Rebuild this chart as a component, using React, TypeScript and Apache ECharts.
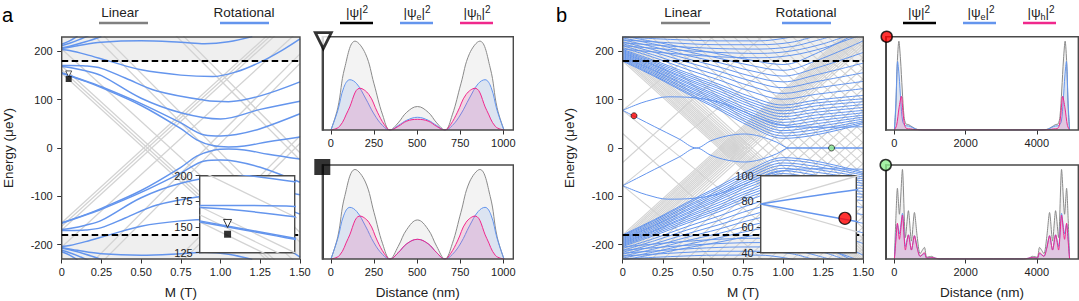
import React, { useEffect, useRef } from 'react';
import * as echarts from 'echarts';

const FONT = '"Liberation Sans", Arial, Helvetica, sans-serif';
const BLUE = '#6495ED';
const LIN = '#d3d3d3';
const PINK = '#F0288C';
const INK = '#222';

// ---------- axes ----------
const M_TICKS = [0, 0.25, 0.5, 0.75, 1, 1.25, 1.5];
const E_TICKS = [-200, -100, 0, 100, 200];
const E_MIN = -230;
const E_MAX = 230;
const GAP = 180;
const A_DIST_TICKS = [0, 250, 500, 750, 1000];
const B_DIST_TICKS = [0, 2000, 4000];

// ---------- panel a: spectrum (positive branch; the spectrum is particle-hole symmetric) ----------
const aRotational: number[][][] = [
  [[0, 155], [0.15, 138], [0.25, 125], [0.5, 88], [0.75, 40], [0.85, 17], [0.95, 5], [1.05, 2], [1.15, 4], [1.3, 13], [1.5, 23]],
  [[0, 156], [0.15, 139], [0.25, 127], [0.5, 92], [0.75, 52], [0.9, 27], [1.0, 25], [1.1, 28], [1.25, 40], [1.5, 71]],
  [[0, 169], [0.05, 167], [0.15, 160], [0.25, 150], [0.5, 103], [0.75, 73], [1.0, 60], [1.25, 80], [1.5, 97]],
  [[0, 171], [0.05, 171], [0.15, 170], [0.25, 165], [0.4, 145], [0.6, 118], [0.9, 99], [1.05, 96], [1.25, 108], [1.5, 137]],
  [[0, 204], [0.05, 202], [0.15, 194], [0.3, 180], [0.5, 162], [0.75, 151], [0.95, 148], [1.1, 158], [1.25, 178], [1.4, 205], [1.5, 226]],
  [[0, 208], [0.05, 211], [0.15, 220], [0.25, 231]],
  [[0, 212], [0.05, 217], [0.12, 226], [0.17, 233]],
  [[0, 206], [0.1, 212], [0.25, 219], [0.5, 222], [0.75, 219], [0.9, 216], [1.05, 220], [1.2, 231]],
  [[0, 215], [0.05, 222], [0.1, 232]],
];
const aLinear: number[][][] = [
  [[0, 155], [1.5, -295]],
  [[0, 162], [1.5, -288]],
  [[0, 170], [1.5, -280]],
  [[0, 205], [1.5, -245]],
  [[0, 300], [1.5, -195]],
  [[0, 320], [1.5, -175]],
  [[0, 470], [1.5, -25]],
  [[0, 485], [1.5, -10]],
];
const aTriangleState = [0.044, 153.5];
const aSquareState = [0.044, 143];

// ---------- panel a: wavefunctions ----------
const aTriPsi = [[0,0],[40,0.25],[80,0.7],[140,1.0],[200,0.86],[250,0.52],[300,0.17],[343,0],[390,0.08],[440,0.2],[502,0.264],[564,0.2],[614,0.08],[661,0],[704,0.17],[754,0.52],[804,0.86],[864,1.0],[924,0.7],[964,0.25],[1004,0]];
const aTriE = [[0,0],[40,0.22],[75,0.48],[110,0.566],[150,0.52],[200,0.36],[250,0.18],[300,0.05],[343,0],[390,0.05],[440,0.11],[502,0.143],[564,0.11],[614,0.05],[661,0],[704,0.05],[754,0.18],[804,0.36],[854,0.52],[894,0.566],[929,0.48],[964,0.22],[1004,0]];
const aTriH = [[0,0],[50,0.04],[100,0.22],[168,0.47],[220,0.4],[270,0.2],[310,0.06],[343,0],[390,0.04],[440,0.1],[502,0.12],[564,0.1],[614,0.04],[661,0],[694,0.06],[734,0.2],[784,0.4],[836,0.47],[904,0.22],[954,0.04],[1004,0]];
const aSqPsi = [[0,0],[40,0.25],[80,0.7],[140,1.0],[200,0.86],[250,0.52],[300,0.17],[343,0],[390,0.14],[440,0.33],[502,0.436],[564,0.33],[614,0.14],[661,0],[704,0.17],[754,0.52],[804,0.86],[864,1.0],[924,0.7],[964,0.25],[1004,0]];
const aSqE = [[0,0],[40,0.23],[75,0.49],[110,0.577],[150,0.53],[200,0.37],[250,0.18],[300,0.05],[343,0],[390,0.07],[440,0.17],[502,0.22],[564,0.17],[614,0.07],[661,0],[704,0.05],[754,0.18],[804,0.37],[854,0.53],[894,0.577],[929,0.49],[964,0.23],[1004,0]];
const aSqH = [[0,0],[50,0.04],[100,0.23],[168,0.48],[220,0.41],[270,0.2],[310,0.06],[343,0],[390,0.07],[440,0.17],[502,0.22],[564,0.17],[614,0.07],[661,0],[694,0.06],[734,0.2],[784,0.41],[836,0.48],[904,0.23],[954,0.04],[1004,0]];

// ---------- panel b: spectrum ----------
const bSubgap: number[][][] = [
  [[0, 78], [0.1, 61], [0.2, 44], [0.35, 19], [0.46, 0], [0.55, 15], [0.65, 25], [0.76, 29], [0.86, 24], [0.96, 12], [1.04, 0], [1.2, 0], [1.5, 0]],
  [[0, 78], [0.08, 89], [0.15, 97], [0.28, 106], [0.45, 104], [0.6, 95], [0.75, 76], [0.9, 56], [1.05, 45], [1.25, 43], [1.5, 44]],
];
const bFamilyM = [0, 0.2, 0.4, 0.6, 0.8, 1.0, 1.2, 1.5];
const bFamilyE: number[][] = [
  [180, 148, 113, 79, 44, 20, 27, 50],
  [182, 150, 116, 83, 49, 25, 32, 53],
  [184, 153, 120, 88, 54, 31, 38, 56],
  [186, 156, 123, 92, 59, 36, 44, 60],
  [188, 159, 127, 96, 64, 42, 50, 64],
  [190, 161, 130, 100, 69, 47, 56, 68],
  [192, 164, 134, 104, 74, 53, 62, 73],
  [194, 167, 137, 108, 79, 59, 68, 78],
  [196, 170, 141, 113, 85, 65, 74, 84],
  [198, 172, 144, 118, 90, 71, 80, 90],
  [200, 175, 148, 123, 95, 77, 87, 96],
  [202, 178, 152, 127, 100, 83, 93, 102],
  [204, 181, 156, 132, 106, 89, 99, 109],
  [208, 187, 163, 141, 117, 101, 111, 123],
  [212, 192, 170, 150, 128, 113, 124, 138],
  [216, 198, 178, 159, 139, 125, 137, 156],
  [220, 203, 185, 168, 149, 137, 151, 176],
  [224, 209, 192, 177, 160, 149, 165, 198],
  [228, 215, 200, 186, 171, 161, 180, 222],
  [232, 220, 207, 195, 182, 173, 195, 245],
];
const bUpper: number[][][] = [
  [[0, 205], [0.3, 196], [0.6, 189], [0.85, 187], [1.05, 192], [1.25, 207], [1.4, 224], [1.5, 236]],
  [[0, 212], [0.3, 204], [0.6, 198], [0.85, 196], [1.05, 201], [1.25, 216], [1.4, 233]],
  [[0, 218], [0.3, 211], [0.6, 206], [0.85, 205], [1.05, 210], [1.2, 222], [1.35, 236]],
  [[0, 224], [0.3, 218], [0.6, 214], [0.85, 214], [1.05, 219], [1.2, 232]],
  [[0, 230], [0.3, 225], [0.6, 222], [0.85, 222], [1.0, 227], [1.1, 234]],
];
const bLinearIntercepts = [180, 184, 188, 192, 196, 200, 204, 208, 212, 216, 220, 225, 230, 236, 242,
  262, 284, 306, 328, 350, 372, 394, 416, 438, 460, 482, 504, 526, 548, 570, 592, 614, 636, 658, 680];
const bLinearSlope = -300;
const bLinearExtra: number[][][] = [
  [[0, 78], [1.5, 483]],
  [[0, 78], [1.5, -327]],
  [[0, 30], [1.5, -420]],
];
const bRedState = [0.0705, 66.8];
const bGreenState = [1.302, 0];

// ---------- panel b: wavefunctions ----------
const B_LENGTH = 4920;
const bRedPsi = [[0,0],[40,0.25],[80,0.75],[125,1.0],[170,0.8],[220,0.45],[270,0.15],[320,0.07],[400,0.06],[500,0.035],[600,0.012],[700,0.003],[900,0],[4020,0],[4220,0.003],[4320,0.012],[4420,0.035],[4520,0.06],[4600,0.07],[4650,0.15],[4700,0.45],[4750,0.8],[4795,1.0],[4840,0.75],[4880,0.25],[4920,0]];
const bRedE = [[0,0],[40,0.3],[90,0.77],[130,0.62],[180,0.32],[230,0.1],[300,0.05],[400,0.045],[500,0.03],[600,0.01],[700,0.002],[900,0],[4020,0],[4220,0.002],[4320,0.01],[4420,0.03],[4520,0.045],[4620,0.05],[4690,0.1],[4740,0.32],[4790,0.62],[4830,0.77],[4880,0.3],[4920,0]];
const bRedH = [[0,0],[60,0.05],[130,0.25],[195,0.38],[240,0.2],[290,0.05],[350,0.015],[450,0.012],[600,0.003],[800,0],[4120,0],[4320,0.003],[4470,0.012],[4570,0.015],[4630,0.05],[4680,0.2],[4725,0.38],[4790,0.25],[4860,0.05],[4920,0]];
const bGrnPsiLeft = [[0,0],[40,0.45],[84,0.79],[140,0.5],[225,1.0],[309,0.24],[393,0.54],[478,0.2],[562,0.52],[640,0.25],[721,0.06],[843,0.13],[908,0.02],[1049,0.03],[1150,0.005],[1300,0]];
const bGrnELeft = [[0,0],[40,0.25],[84,0.39],[140,0.28],[225,0.51],[309,0.14],[393,0.27],[478,0.1],[562,0.26],[640,0.13],[721,0.03],[843,0.06],[908,0.01],[1049,0.015],[1300,0]];
const bGrnHLeft = [[0,0],[40,0.2],[84,0.4],[140,0.22],[225,0.49],[309,0.1],[393,0.27],[478,0.1],[562,0.26],[640,0.12],[721,0.03],[843,0.07],[908,0.01],[1049,0.015],[1300,0]];

// ---------- helpers ----------
const mirrorE = (c: number[][]) => c.map(([m, e]) => [m, -e]);
const withMirror = (list: number[][][]) => [...list, ...list.map(mirrorE)];
const mirrorD = (c: number[][]) => c.map(([d, v]) => [B_LENGTH - d, v]).reverse();
const symmetricWave = (left: number[][]) => [...left, ...mirrorD(left)];

function lineS(data: number[][], gi: number, color: string, width: number, z: number, smooth: boolean) {
  return {
    type: 'line', xAxisIndex: gi, yAxisIndex: gi, data, symbol: 'none', showSymbol: false,
    smooth: smooth ? 0.35 : false, clip: true, z, silent: true,
    lineStyle: { color, width }, emphasis: { disabled: true },
  };
}

function spectrumSeries(gi: number, rot: number[][][], lin: number[][][], o: {
  z: number; rotW: number; linW: number; shadeTop?: number; shadeBottom?: number; dashes: number[]; dashW: number; gaps: number[];
}) {
  const s: any[] = [];
  const areas: any[] = [];
  if (o.shadeTop !== undefined) areas.push([{ yAxis: GAP }, { yAxis: o.shadeTop }]);
  if (o.shadeBottom !== undefined) areas.push([{ yAxis: o.shadeBottom }, { yAxis: -GAP }]);
  if (areas.length) {
    s.push({ type: 'line', xAxisIndex: gi, yAxisIndex: gi, data: [], z: o.z, silent: true,
      markArea: { silent: true, itemStyle: { color: '#efefef' }, data: areas } });
  }
  lin.forEach((d) => s.push(lineS(d, gi, LIN, o.linW, o.z + 1, false)));
  rot.forEach((d) => s.push(lineS(d, gi, BLUE, o.rotW, o.z + 1, true)));
  if (o.gaps.length) {
    s.push({ type: 'line', xAxisIndex: gi, yAxisIndex: gi, data: [], z: o.z + 2, silent: true,
      markLine: { silent: true, symbol: 'none', label: { show: false },
        lineStyle: { color: '#000', type: o.dashes, width: o.dashW },
        data: o.gaps.map((g) => ({ yAxis: g })) } });
  }
  return s;
}

function marker(gi: number, pt: number[], symbol: string, size: number, color: string, border: string, bw: number, z: number, rotate = 0, offset = [0, 0], clip = true) {
  return {
    type: 'scatter', xAxisIndex: gi, yAxisIndex: gi, data: [pt], symbol, symbolSize: size,
    symbolRotate: rotate, symbolOffset: offset, clip, z, silent: true,
    itemStyle: { color, borderColor: border, borderWidth: bw },
  };
}

function waveSeries(gi: number, psi: number[][], e: number[][], h: number[][], smooth: number) {
  const mk = (data: number[][], color: string, fill: string, z: number) => ({
    type: 'line', xAxisIndex: gi, yAxisIndex: gi, data, symbol: 'none', showSymbol: false,
    smooth, clip: true, z, silent: true, lineStyle: { color, width: 1 },
    areaStyle: { color: fill, origin: 'start' },
  });
  return [
    mk(psi, '#8a8a8a', 'rgba(200,200,200,0.32)', 2),
    mk(e, BLUE, 'rgba(100,149,237,0.22)', 3),
    mk(h, PINK, 'rgba(240,40,140,0.22)', 4),
  ];
}

const labelBase = { fontSize: 11, color: INK, fontFamily: FONT };
const nameStyle = { fontSize: 13.5, color: INK, fontFamily: FONT };
const tickBase = { show: true, length: 4.5, lineStyle: { color: '#333', width: 1 } };

function mainX(gi: number) {
  return {
    gridIndex: gi, type: 'value', min: 0, max: 1.5, interval: 0.25,
    axisLine: { show: false, onZero: false }, splitLine: { show: false },
    axisTick: { ...tickBase, customValues: M_TICKS },
    axisLabel: { ...labelBase, margin: 7, customValues: M_TICKS, showMinLabel: true, showMaxLabel: true,
      formatter: (v: number) => (v === 0 ? '0' : v.toFixed(2)) },
    name: 'M (T)', nameLocation: 'middle', nameGap: 26, nameTextStyle: nameStyle,
  };
}
function mainY(gi: number) {
  return {
    gridIndex: gi, type: 'value', min: E_MIN, max: E_MAX,
    axisLine: { show: false, onZero: false }, splitLine: { show: false },
    axisTick: { ...tickBase, customValues: E_TICKS },
    axisLabel: { ...labelBase, margin: 9, customValues: E_TICKS, formatter: (v: number) => String(v) },
    name: 'Energy (\u03bceV)', nameLocation: 'middle', nameGap: 46, nameTextStyle: nameStyle,
  };
}
function insetX(gi: number, max: number) {
  return { gridIndex: gi, type: 'value', min: 0, max, axisLine: { show: false, onZero: false },
    axisTick: { show: false }, axisLabel: { show: false }, splitLine: { show: false }, z: 12 };
}
function insetY(gi: number, min: number, max: number, interval: number) {
  return { gridIndex: gi, type: 'value', min, max, interval, axisLine: { show: false, onZero: false },
    axisTick: { ...tickBase, length: 4 }, axisLabel: { ...labelBase, margin: 7, formatter: (v: number) => String(v) },
    splitLine: { show: false }, z: 12 };
}
function waveX(gi: number, min: number, max: number, ticks: number[], named: boolean) {
  return {
    gridIndex: gi, type: 'value', min, max,
    axisLine: { show: false, onZero: false }, splitLine: { show: false },
    axisTick: { ...tickBase, customValues: ticks },
    axisLabel: { ...labelBase, margin: 7, customValues: ticks, formatter: (v: number) => String(v) },
    name: named ? 'Distance (nm)' : '', nameLocation: 'middle', nameGap: 26, nameTextStyle: nameStyle,
  };
}
function waveY(gi: number) {
  return { gridIndex: gi, type: 'value', min: 0, max: 1.05,
    axisLine: { show: true, onZero: false, lineStyle: { color: '#000', width: 1.5 } },
    axisTick: { show: false }, axisLabel: { show: false }, splitLine: { show: false } };
}

function legendText(x: number, text: string, rich?: boolean) {
  return {
    type: 'text', x, y: 12.5, z: 50,
    style: rich
      ? { text, textAlign: 'center', textVerticalAlign: 'middle', fill: INK, fontFamily: FONT, fontSize: 13.5,
          rich: {
            n: { fontSize: 13.5, fontFamily: FONT, fill: INK, lineHeight: 17 },
            s: { fontSize: 10, fontFamily: FONT, fill: INK, verticalAlign: 'top', lineHeight: 17 },
            b: { fontSize: 9, fontFamily: FONT, fill: INK, verticalAlign: 'bottom', lineHeight: 17 },
          } }
      : { text, textAlign: 'center', textVerticalAlign: 'middle', fill: INK, fontFamily: FONT, fontSize: 13.5 },
  };
}
function legendLine(x1: number, x2: number, color: string) {
  return { type: 'line', z: 50, shape: { x1, y1: 23, x2, y2: 23 }, style: { stroke: color, lineWidth: 2.6 } };
}

function buildOption() {
  const aRotAll = withMirror(aRotational);
  const aLinAll = withMirror(aLinear);
  const bFamily = bFamilyE.map((row) => row.map((e, i) => [bFamilyM[i], e]));
  const bRotAll = withMirror([...bSubgap, ...bFamily, ...bUpper]);
  const bLinAll = withMirror([
    ...bLinearExtra,
    ...bLinearIntercepts.map((b) => [[0, b], [1.5, b + bLinearSlope * 1.5]]),
  ]);

  const frame = { show: true, borderColor: '#4a4a4a', borderWidth: 1.4, outerBoundsMode: 'none' };
  const grid = [
    { ...frame, left: 61.7, top: 37, width: 238.3, height: 222, z: 3 },
    { ...frame, left: 199.7, top: 175.7, width: 95, height: 77, backgroundColor: '#fff', z: 10 },
    { ...frame, left: 322.3, top: 36.7, width: 191, height: 93.3, z: 6 },
    { ...frame, left: 322.3, top: 165, width: 191, height: 94, z: 6 },
    { ...frame, left: 622.7, top: 37, width: 240.6, height: 222, z: 3 },
    { ...frame, left: 760.7, top: 175.7, width: 95.6, height: 77, backgroundColor: '#fff', z: 10 },
    { ...frame, left: 885.7, top: 36.7, width: 192.6, height: 93.3, z: 6 },
    { ...frame, left: 885.7, top: 165, width: 192.6, height: 94, z: 6 },
  ];

  const xAxis = [
    mainX(0), insetX(1, 0.15),
    waveX(2, -50, 1058, A_DIST_TICKS, false), waveX(3, -50, 1058, A_DIST_TICKS, true),
    mainX(4), insetX(5, 0.08),
    waveX(6, -245, 5165, B_DIST_TICKS, false), waveX(7, -245, 5165, B_DIST_TICKS, true),
  ];
  const yAxis = [
    mainY(0), insetY(1, 125, 200, 25), waveY(2), waveY(3),
    mainY(4), insetY(5, 40, 100, 20), waveY(6), waveY(7),
  ];

  const series: any[] = [
    ...spectrumSeries(0, aRotAll, aLinAll, { z: 1, rotW: 1.5, linW: 1.3, shadeTop: E_MAX, shadeBottom: E_MIN, dashes: [6.5, 3.5], dashW: 2, gaps: [GAP, -GAP] }),
    marker(0, aTriangleState, 'triangle', 6, '#fff', '#000', 0.8, 5, 180),
    marker(0, aSquareState, 'rect', 6, '#000', '#000', 0, 5),
    ...spectrumSeries(1, aRotAll, aLinAll, { z: 11, rotW: 1.5, linW: 1.3, shadeTop: 200, dashes: [3, 2], dashW: 1.2, gaps: [GAP] }),
    marker(1, aTriangleState, 'triangle', 8, '#fff', '#000', 1, 15, 180),
    marker(1, aSquareState, 'rect', 7, '#000', '#000', 0, 15),
    ...waveSeries(2, aTriPsi, aTriE, aTriH, 0.4),
    ...waveSeries(3, aSqPsi, aSqE, aSqH, 0.4),
    marker(2, [-50, 1.05], 'triangle', 16, '#fff', '#000', 2.8, 20, 180, [1, 4], false),
    marker(3, [-50, 1.05], 'rect', 16, '#000', '#000', 0, 20, 0, [0, 2], false),
    ...spectrumSeries(4, bRotAll, bLinAll, { z: 1, rotW: 1.0, linW: 1.1, shadeTop: E_MAX, shadeBottom: E_MIN, dashes: [6.5, 3.5], dashW: 2, gaps: [GAP, -GAP] }),
    marker(4, bRedState, 'circle', 6, '#ff0000', '#000', 0.8, 5),
    marker(4, bGreenState, 'circle', 6, '#90ee90', '#000', 0.8, 5),
    ...spectrumSeries(5, bRotAll, bLinAll, { z: 11, rotW: 1.5, linW: 1.3, dashes: [3, 2], dashW: 1.2, gaps: [] }),
    marker(5, bRedState, 'circle', 12, '#ff0000', '#000', 1.2, 15),
    ...waveSeries(6, bRedPsi, bRedE, bRedH, 0.3),
    ...waveSeries(7, symmetricWave(bGrnPsiLeft), symmetricWave(bGrnELeft), symmetricWave(bGrnHLeft), 0.25),
    marker(6, [-245, 1.05], 'circle', 11, '#ff0000', '#000', 1.5, 20, 0, [1, 0], false),
    marker(7, [-245, 1.05], 'circle', 11, '#90ee90', '#000', 1.5, 20, 0, [0, 0], false),
  ];

  const psi = '{n||\u03c8|}{s|2}';
  const psiE = '{n||\u03c8}{b|e}{n||}{s|2}';
  const psiH = '{n||\u03c8}{b|h}{n||}{s|2}';
  const graphic = [
    { type: 'text', x: 2, y: 15, z: 50, style: { text: 'a', fontSize: 20, fontFamily: FONT, fill: '#000', textAlign: 'left', textVerticalAlign: 'middle' } },
    { type: 'text', x: 556, y: 15, z: 50, style: { text: 'b', fontSize: 20, fontFamily: FONT, fill: '#000', textAlign: 'left', textVerticalAlign: 'middle' } },
    legendText(120, 'Linear'), legendLine(99, 148, '#808080'),
    legendText(244, 'Rotational'), legendLine(220, 269, BLUE),
    legendText(357, psi, true), legendLine(340, 373, '#000'),
    legendText(417, psiE, true), legendLine(400, 433, BLUE),
    legendText(477, psiH, true), legendLine(460, 493, PINK),
    legendText(683, 'Linear'), legendLine(661, 710, '#808080'),
    legendText(806, 'Rotational'), legendLine(782, 831, BLUE),
    legendText(919, psi, true), legendLine(903, 936, '#000'),
    legendText(981, psiE, true), legendLine(963, 996, BLUE),
    legendText(1041, psiH, true), legendLine(1023, 1056, PINK),
  ];

  return {
    animation: false,
    backgroundColor: '#fff',
    textStyle: { fontFamily: FONT },
    grid, xAxis, yAxis, series, graphic,
  };
}

export default function App() {
  const ref = useRef<HTMLDivElement>(null);
  useEffect(() => {
    document.body.style.margin = '0';
    document.body.style.overflow = 'hidden';
    const chart = echarts.init(ref.current as HTMLDivElement, null, { renderer: 'svg' });
    chart.setOption(buildOption() as any, true);
    return () => chart.dispose();
  }, []);
  return <div ref={ref} style={{ width: 1079, height: 301 }} />;
}
